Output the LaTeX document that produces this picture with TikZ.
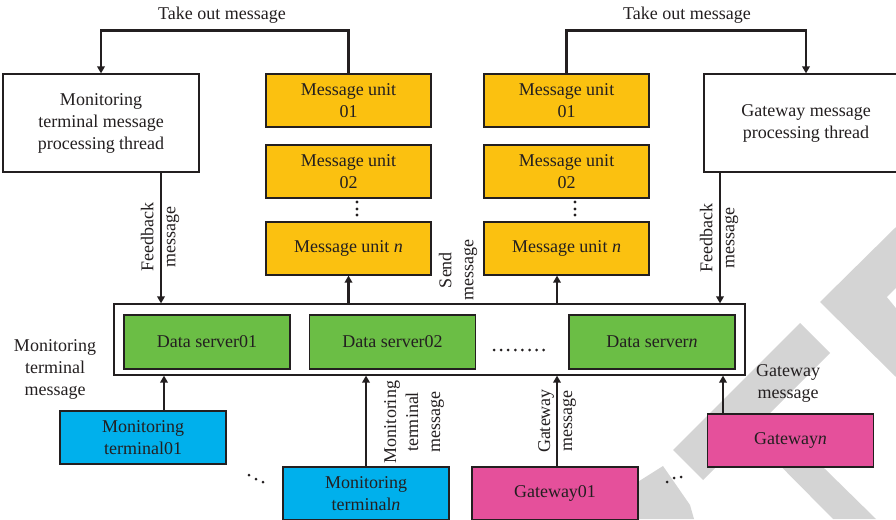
\documentclass[tikz,border=0pt]{standalone}
\usepackage{fontspec}
\setmainfont{Liberation Serif}
\usetikzlibrary{arrows.meta}
\definecolor{inkc}{RGB}{35,31,32}
\definecolor{unitfill}{RGB}{251,193,16}
\definecolor{serverfill}{RGB}{107,190,69}
\definecolor{termfill}{RGB}{0,176,236}
\definecolor{gatefill}{RGB}{229,80,155}
\definecolor{wmgray}{RGB}{212,212,212}
\tikzset{
  every node/.style={font=\fontsize{18}{22}\selectfont, text=inkc},
  box/.style={draw=inkc, line width=1.2pt, inner sep=0pt, align=center},
  thread/.style={box, fill=white, minimum height=98pt},
  unit/.style={box, fill=unitfill, minimum width=165pt, minimum height=53pt},
  server/.style={box, fill=serverfill, minimum width=166pt, minimum height=54pt},
  terminal/.style={box, fill=termfill, minimum width=166pt, minimum height=53pt},
  gate/.style={box, fill=gatefill, minimum width=166pt, minimum height=53pt},
  lbl/.style={align=center, inner sep=0pt},
  arr/.style={draw=inkc, line width=2.3pt, -{Triangle[width=7.5pt,length=7pt]}},
  dot/.style={fill=inkc},
  wm/.style={fill=wmgray}
}
\begin{document}
\begin{tikzpicture}[x=1pt,y=-1pt]
\useasboundingbox (0,0) rectangle (896,519);
\clip (0,0) rectangle (896,519);

% faint background emblem
\fill[wm] (820,302) -- (896,227) -- (896,377) -- cycle;
\fill[white] (887,297) -- (896,288) -- (896,308) -- cycle;
\fill[wm] (800,323) -- (830,353) -- (703,480) -- (673,450) -- cycle;
\fill[wm] (625,490) -- (663,466) -- (690,505) -- (694,519) -- (625,519) -- cycle;
\fill[wm] (740,425) -- (775,420) -- (876,519) -- (833,519) -- cycle;

% processing threads
\node[thread, minimum width=196pt] (mthread) at (101,123)
  {Monitoring\\terminal message\\processing thread};
\node[thread, minimum width=204pt] (gthread) at (806,123)
  {Gateway message\\processing thread};

% message unit queues
\node[unit] (muL1) at (348.5,100.5) {Message unit\\01};
\node[unit] (muL2) at (348.5,171.5) {Message unit\\02};
\node[unit] (muLn) at (348.5,248.5) {Message unit \textit{n}};
\node[unit] (muR1) at (566.5,100.5) {Message unit\\01};
\node[unit] (muR2) at (566.5,171.5) {Message unit\\02};
\node[unit] (muRn) at (566.5,248.5) {Message unit \textit{n}};
\foreach \y in {202,209,215} {
  \fill[dot] (357,\y) circle (1.6);
  \fill[dot] (575,\y) circle (1.6);
}

% data server group
\node[box, fill=white, minimum width=631pt, minimum height=71pt] (outer) at (429.5,339.5) {};
\node[server] (ds1) at (207,342) {Data server01};
\node[server] (ds2) at (392.5,342) {Data server02};
\node[server] (dsn) at (652,342) {Data server\textit{n}};
\foreach \i in {0,...,7} \fill[dot] (494+\i*7.1,350) circle (1.5);

% terminals and gateways
\node[terminal] (mt1) at (143,437.5) {Monitoring\\terminal01};
\node[terminal] (mtn) at (366,493.5) {Monitoring\\terminal\textit{n}};
\node[gate] (gw1) at (555,493.5) {Gateway01};
\node[gate] (gwn) at (790.5,440.5) {Gateway\textit{n}};
\fill[dot] (249,475) circle (1.5);
\fill[dot] (256,479) circle (1.5);
\fill[dot] (263,482) circle (1.5);
\fill[dot] (667,482) circle (1.5);
\fill[dot] (674,478) circle (1.5);
\fill[dot] (681,477) circle (1.5);

% x positions of the vertical connectors
\coordinate (fbL) at (161,0);
\coordinate (fbR) at (720,0);
\coordinate (sR) at (557,0);
\coordinate (a1) at (164,0);
\coordinate (gA) at (723,0);

% connectors
\draw[arr] (muL1.north) -- ++(0,-43) -| (mthread.north);
\draw[arr] (muR1.north) -- ++(0,-43) -| (gthread.north);
\draw[arr] (mthread.south -| fbL) -- (outer.north -| fbL);
\draw[arr] (gthread.south -| fbR) -- (outer.north -| fbR);
\draw[arr] (outer.north -| muLn.south) -- (muLn.south);
\draw[arr] (outer.north -| sR) -- (muRn.south -| sR);
\draw[arr] (mt1.north -| a1) -- (outer.south -| a1);
\draw[arr] (mtn.north) -- (outer.south -| mtn.north);
\draw[arr] (gw1.north -| sR) -- (outer.south -| sR);
\draw[arr] (gwn.north -| gA) -- (outer.south -| gA);

% labels
\node[lbl] (toL) at (222,15) {Take out message};
\node[lbl] (toR) at (687,15) {Take out message};
\node[lbl, rotate=90] (fbLl) at (160,237) {Feedback\\message};
\node[lbl, rotate=90] (fbRl) at (719,238) {Feedback\\message};
\node[lbl, rotate=90] (sendl) at (458,270) {Send\\message};
\node[lbl] (mtl) at (55,369) {Monitoring\\terminal\\message};
\node[lbl, rotate=90] (mtnl) at (414,422) {Monitoring\\terminal\\message};
\node[lbl, rotate=90] (gw1l) at (557,421) {Gateway\\message};
\node[lbl] (gwnl) at (788,383) {Gateway\\message};
\end{tikzpicture}
\end{document}
